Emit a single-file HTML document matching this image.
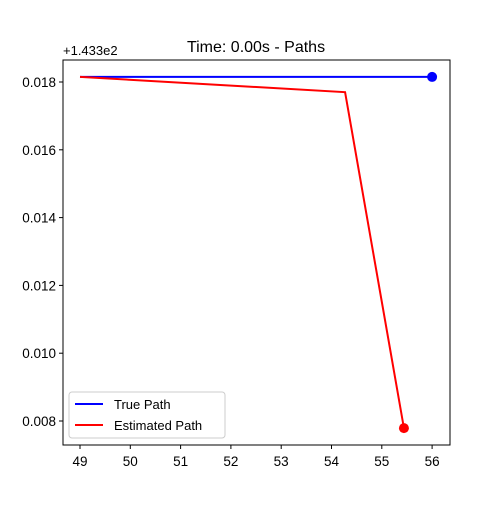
<!DOCTYPE html>
<html><head><style>
body{margin:0;background:#fff;}
svg text{font-family:"Liberation Sans",sans-serif;}
</style></head><body>
<svg id="chart" width="500" height="500" xmlns="http://www.w3.org/2000/svg">
<rect width="500" height="500" fill="#fff"/>
<text x="256" y="52" font-size="16" text-anchor="middle">Time: 0.00s - Paths</text>
<text x="63" y="55" font-size="13">+1.433e2</text>
<g id="ticks"></g>
<g id="series"></g>
<rect x="63" y="60" width="387" height="385" fill="none" stroke="#000" stroke-width="1"/>
<g>
<rect x="69" y="392" width="156" height="46" rx="3" fill="#fff" stroke="#ccc"/>
<line x1="75" y1="404" x2="103" y2="404" stroke="#0000ff" stroke-width="2"/>
<text x="114" y="409" font-size="13">True Path</text>
<line x1="75" y1="425" x2="103" y2="425" stroke="#ff0000" stroke-width="2"/>
<text x="114" y="430" font-size="13">Estimated Path</text>
</g>
</svg>
<script>
const xTicks=[49,50,51,52,53,54,55,56];
const yTicks=[0.008,0.010,0.012,0.014,0.016,0.018];
const trueX=[49,56.0];
const trueY=[0.01815,0.01815];
const estX=[49,54.27,55.44];
const estY=[0.01815,0.01770,0.00779];
const sx=v=>80+(v-49)*50.3;
const sy=v=>82+(0.018-v)*(339/0.010);
const NS="http://www.w3.org/2000/svg";
const tg=document.getElementById('ticks'), sg=document.getElementById('series');
function mk(tag,at,parent){const e=document.createElementNS(NS,tag);for(const k in at)e.setAttribute(k,at[k]);parent.appendChild(e);return e;}
xTicks.forEach(v=>{
 const l=mk('line',{x1:sx(v),x2:sx(v),y1:445,y2:449,stroke:'#000'},tg);
 
 
 const t=mk('text',{x:sx(v),y:466,'font-size':13.5,'text-anchor':'middle'},tg);t.textContent=v;
 
 
});
yTicks.forEach(v=>{
 const l=mk('line',{x1:59,x2:63,y1:sy(v),y2:sy(v),stroke:'#000'},tg);
 
 
 const t=mk('text',{x:56,y:sy(v)+5,'font-size':13.5,'text-anchor':'end'},tg);t.textContent=v.toFixed(3);
 
 
});
function path(xs,ys,col,name){
 const p=mk('polyline',{points:xs.map((x,i)=>sx(x)+','+sy(ys[i])).join(' '),fill:'none',stroke:col,'stroke-width':2},sg);
 
 
 const n=xs.length-1;
 const c=mk('circle',{cx:sx(xs[n]),cy:sy(ys[n]),r:5,fill:col},sg);
 
 
}
path(trueX,trueY,'#0000ff','true-path');
path(estX,estY,'#ff0000','estimated-path');
</script>
</body></html>
